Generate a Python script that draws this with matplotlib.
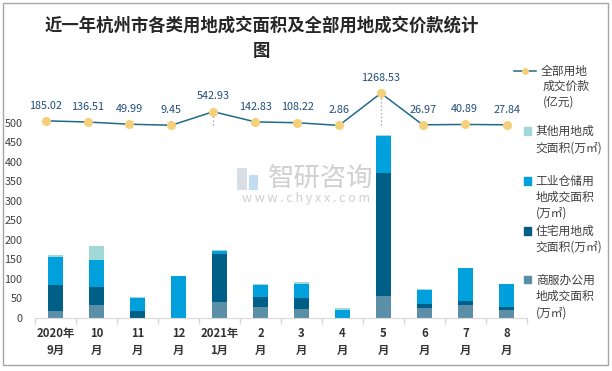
import numpy as np
import matplotlib.pyplot as plt
from matplotlib.lines import Line2D
from matplotlib.patches import Patch, Rectangle

plt.rcParams['font.family'] = ['Noto Sans CJK SC', 'DejaVu Sans']

# 数据
months = ["2020年\n9月", "10\n月", "11\n月", "12\n月", "2021年\n1月", "2\n月",
          "3\n月", "4\n月", "5\n月", "6\n月", "7\n月", "8\n月"]
commercial = [17, 31.6, 0, 0, 40, 27.4, 22.2, 0, 55.6, 24.8, 32.5, 19.7]
residential = [67, 47, 17, 0, 123, 25.6, 28, 0, 315, 10, 10, 7.7]
industrial = [71.6, 69.3, 34, 107, 9, 31, 36, 19.7, 95, 37, 85, 59]
other = [5, 36, 2, 0, 2.5, 2.5, 5, 5, 2.6, 1.7, 0, 0]
price = [185.02, 136.51, 49.99, 9.45, 542.93, 142.83, 108.22, 2.86,
         1268.53, 26.97, 40.89, 27.84]

c_com = "#5b8fa8"
c_res = "#005f86"
c_ind = "#00a0dc"
c_oth = "#a0d8d8"
c_line = "#1f6b8a"
c_mark = "#f5d07a"
c_lab = "#1f4e79"
c_txt = "#404040"

W, H = 612, 371
fig = plt.figure(figsize=(6.12, 3.71), dpi=100)

rect = [35 / W, (H - 317.7) / H, 492 / W, (317.7 - 88) / H]
ax = fig.add_axes(rect)
x = np.arange(len(months))
w = 0.38
b = np.zeros(len(x))
for vals, col in [(commercial, c_com), (residential, c_res), (industrial, c_ind), (other, c_oth)]:
    ax.bar(x, vals, w, bottom=b, color=col)
    b = b + np.array(vals)

ax.set_xlim(-0.5, 11.5)
ax.set_ylim(0, 589)
ax.set_yticks(np.arange(0, 501, 50))
ax.tick_params(axis='y', length=0, pad=9, labelsize=7.8, labelcolor=c_txt)
ax.set_xticks(x)
ax.set_xticklabels(months, fontsize=8.2, fontweight='bold', color="#333333", linespacing=1.35)
ax.tick_params(axis='x', length=0, pad=7)
ax.set_xticks(np.arange(-0.5, 12, 1), minor=True)
ax.tick_params(axis='x', which='minor', length=4, color="#d9d9d9", width=1)
for s in ['top', 'right', 'left']:
    ax.spines[s].set_visible(False)
ax.spines['bottom'].set_color("#d9d9d9")
ax.patch.set_alpha(0)

# 价款折线（次坐标轴）
ax2 = fig.add_axes(rect, frameon=False)
ax2.set_xlim(-0.255, 11.487)
ax2.set_ylim(-7567, 1476)
ax2.set_xticks([])
ax2.set_yticks([])
ax2.vlines(x, 0, price, colors="#a6a6a6", linestyles=':', linewidth=1, zorder=1)
ax2.plot(x, price, color=c_line, linewidth=1.1, marker='o', markersize=5.5,
         markerfacecolor=c_mark, markeredgecolor=c_mark, zorder=2)
for i, v in enumerate(price):
    ax2.annotate(f"{v:.2f}", (i, v), xytext=(0, 11), textcoords='offset points',
                 ha='center', va='center', fontsize=7.8, color=c_lab)

# 标题
fig.text(261.7 / W, 1 - 38 / H, "近一年杭州市各类用地成交面积及全部用地成交价款统计\n图",
         ha='center', va='center', fontsize=12.5, fontweight='bold', color="#262626",
         linespacing=1.55)

# 水印
fig.add_artist(Rectangle((237 / W, 1 - 190 / H), 10 / W, 22 / H, transform=fig.transFigure,
                         color="#cdd6e0", alpha=0.8, lw=0))
fig.add_artist(Rectangle((249 / W, 1 - 190 / H), 9 / W, 15 / H, transform=fig.transFigure,
                         color="#b3d4ee", alpha=0.8, lw=0))
fig.text(321 / W, 1 - 178 / H, "智研咨询", ha='center', va='center', fontsize=19,
         color="#c4c4c4", alpha=0.8)
fig.text(306 / W, 1 - 198.5 / H, "w w w . c h y x x . c o m", ha='center', va='center',
         fontsize=9, color="#c4c4c4", alpha=0.8)

# 图例（首行对齐图例标记，其余行用文本续写）
entries = [
    (Line2D([], [], color=c_line, marker='o', markersize=4, markerfacecolor=c_mark,
            markeredgecolor=c_mark, linewidth=1.1),
     ["全部用地", "成交价款", "(亿元)"], 514, 71.7, 1.9, 543, 15),
    (Patch(color=c_oth), ["其他用地成", "交面积(万㎡)"], 524, 131.7, 0.6, 535.5, 16.6),
    (Patch(color=c_ind), ["工业仓储用", "地成交面积", "(万㎡)"], 524, 181.7, 0.6, 535.5, 15.8),
    (Patch(color=c_res), ["住宅用地成", "交面积(万㎡)"], 524, 231.7, 0.6, 535.5, 15),
    (Patch(color=c_com), ["商服办公用", "地成交面积", "(万㎡)"], 524, 280, 0.6, 535.5, 16.6),
]
for h, lines, px, py, hl, tx, step in entries:
    fig.legend(handles=[h], labels=[lines[0]], loc='center left',
               bbox_to_anchor=(px / W, 1 - py / H), frameon=False, borderpad=0,
               borderaxespad=0, handlelength=hl, handleheight=0.6, handletextpad=0.4,
               prop={'size': 8.5}, labelcolor=c_txt)
    for k, t in enumerate(lines[1:], start=1):
        fig.text(tx / W, 1 - (py + k * step) / H, t, ha='left', va='center',
                 fontsize=8.5, color=c_txt)

# 外框
fig.add_artist(Rectangle((3 / W, 6 / H), 605 / W, 362 / H, transform=fig.transFigure,
                         fill=False, edgecolor="#a6a6a6", linewidth=1))

fig.savefig("out.png", dpi=100)
